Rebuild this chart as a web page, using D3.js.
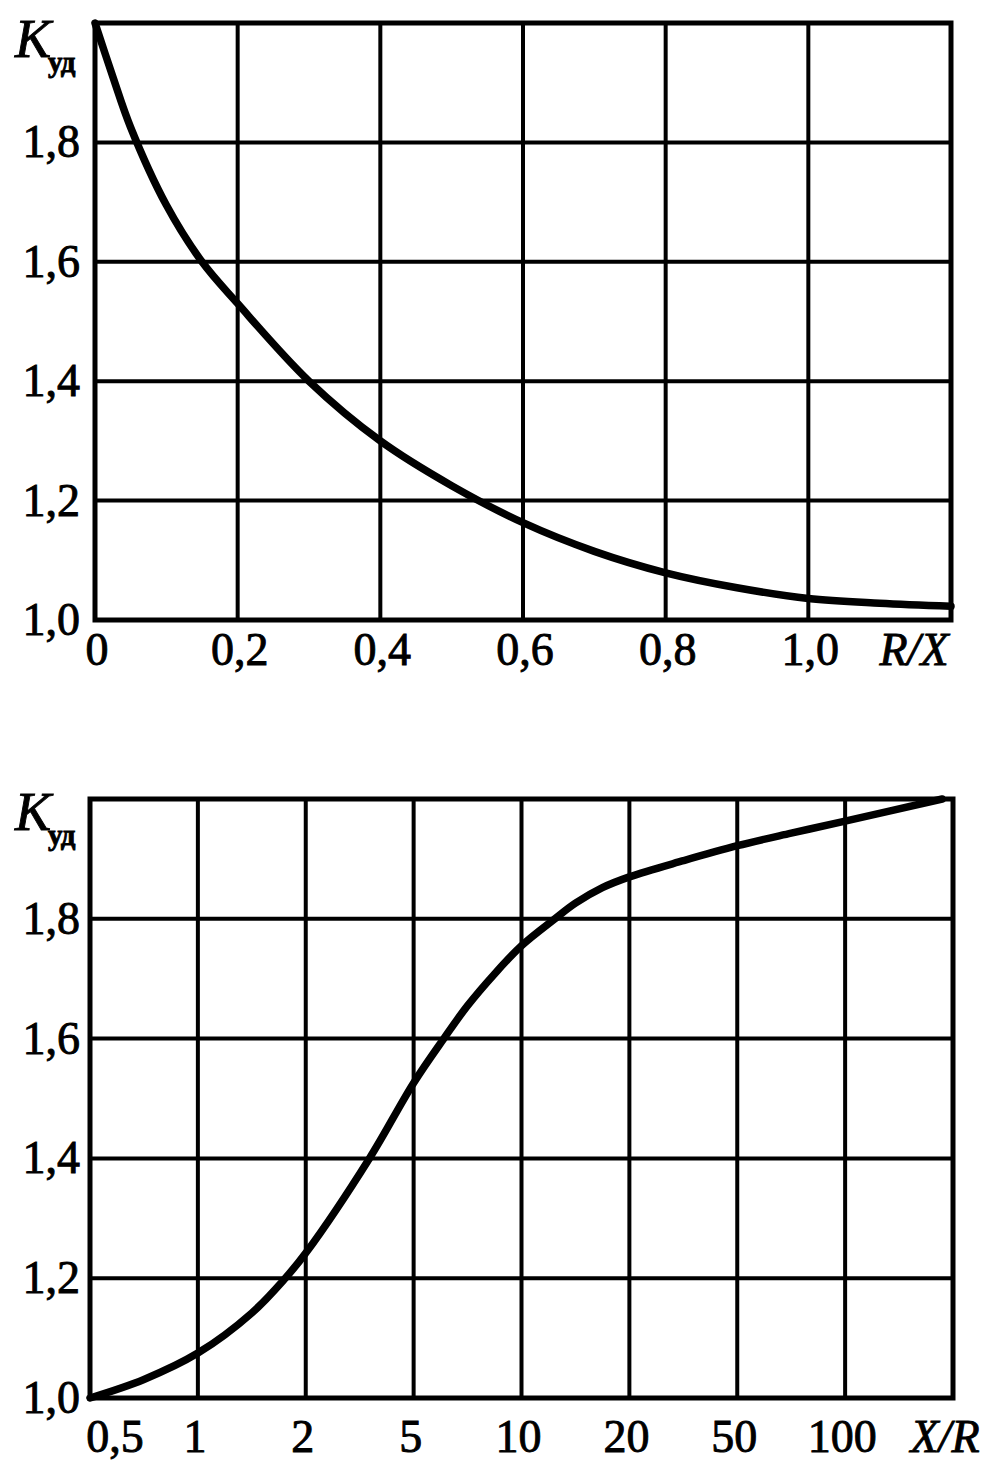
<!DOCTYPE html>
<html>
<head>
<meta charset="utf-8">
<script src="https://cdn.jsdelivr.net/npm/d3@7"></script>
<style>
  html, body { margin: 0; padding: 0; background: #fff; }
  svg { display: block; }
  text { font-family: "Liberation Serif", "DejaVu Serif", serif; fill: #000; stroke: #000; stroke-width: 0.9px; }
</style>
</head>
<body>
<script>
// ---------- DATA ----------
// Top chart: K_ud vs R/X
const topRX = [0, 0.025, 0.05, 0.1, 0.15, 0.2, 0.3, 0.4, 0.5, 0.6, 0.7, 0.8, 0.9, 1.0, 1.1, 1.2];
const topK  = [2.0, 1.91, 1.825, 1.695, 1.60, 1.530, 1.400, 1.300, 1.225, 1.163, 1.115, 1.079, 1.054, 1.036, 1.028, 1.023];
const topXTicks = [0, 0.2, 0.4, 0.6, 0.8, 1.0];
const topXTickLabels = ["0", "0,2", "0,4", "0,6", "0,8", "1,0"];
const topXGrid = [0.2, 0.4, 0.6, 0.8, 1.0];

// Bottom chart: K_ud vs X/R (equally spaced categorical positions)
const bottomCategories = ["0,5", "1", "2", "5", "10", "20", "50", "100"];
const bottomPos = [0, 0.5, 1, 1.5, 1.81, 2, 2.59, 3, 3.28, 3.5, 3.75, 4, 4.31, 4.5, 4.75, 5, 5.5, 6, 6.5, 7, 7.9];
const bottomK   = [1.0, 1.031, 1.075, 1.142, 1.2, 1.242, 1.4, 1.526, 1.6, 1.655, 1.708, 1.755, 1.8, 1.826, 1.852, 1.870, 1.897, 1.922, 1.943, 1.963, 2.0];

// Shared Y ticks
const yTicks = [1.0, 1.2, 1.4, 1.6, 1.8];
const yTickLabels = ["1,0", "1,2", "1,4", "1,6", "1,8"];
const yGrid = [1.2, 1.4, 1.6, 1.8];

// ---------- DRAW ----------
const W = 1000, H = 1470;
const svg = d3.select("body").append("svg").attr("width", W).attr("height", H);

function drawFrame(g, x, y, xGridVals, yGridVals) {
  const [x0, x1] = x.range();
  const [y0, y1] = y.range(); // y0 bottom, y1 top
  g.selectAll(".vg").data(xGridVals).join("line")
    .attr("x1", d => x(d)).attr("x2", d => x(d))
    .attr("y1", y0).attr("y2", y1)
    .attr("stroke", "#000").attr("stroke-width", 4);
  g.selectAll(".hg").data(yGridVals).join("line")
    .attr("x1", x0).attr("x2", x1)
    .attr("y1", d => y(d)).attr("y2", d => y(d))
    .attr("stroke", "#000").attr("stroke-width", 4);
  g.append("rect")
    .attr("x", x0).attr("y", y1)
    .attr("width", x1 - x0).attr("height", y0 - y1)
    .attr("fill", "none").attr("stroke", "#000").attr("stroke-width", 5);
}

function drawYLabels(g, y, xRight) {
  g.selectAll(".yl").data(yTicks).join("text")
    .attr("x", xRight).attr("y", d => y(d) + 15)
    .attr("text-anchor", "end")
    .attr("font-size", 46)
    .text((d, i) => yTickLabels[i]);
}

function drawK(g, xLeft, yTop) {
  const t = g.append("text").attr("x", xLeft).attr("y", yTop);
  t.append("tspan").attr("font-size", 54).attr("font-style", "italic").text("K");
  t.append("tspan").attr("font-size", 29).attr("font-weight", "bold").attr("dy", 15).attr("dx", -3).text("уд");
}

const lineW = 7.5;

// ---- Top chart ----
{
  const x = d3.scaleLinear().domain([0, 1.2]).range([95, 951]);
  const y = d3.scaleLinear().domain([1.0, 2.0]).range([620, 23]);
  const g = svg.append("g");
  drawFrame(g, x, y, topXGrid, yGrid);

  const line = d3.line().x((d, i) => x(topRX[i])).y(d => y(d)).curve(d3.curveCatmullRom.alpha(0.5));
  g.append("path").datum(topK)
    .attr("d", line).attr("fill", "none")
    .attr("stroke", "#000").attr("stroke-width", lineW).attr("stroke-linecap", "round");

  drawYLabels(g, y, 80);
  drawK(g, 15, 57);

  g.selectAll(".xl").data(topXTicks).join("text")
    .attr("x", d => x(d) + 2).attr("y", 665)
    .attr("text-anchor", "middle").attr("font-size", 46)
    .text((d, i) => topXTickLabels[i]);
  g.append("text").attr("x", 914).attr("y", 665)
    .attr("text-anchor", "middle").attr("font-size", 46).attr("font-style", "italic")
    .text("R/X");
}

// ---- Bottom chart ----
{
  const x = d3.scaleLinear().domain([0, bottomCategories.length]).range([90, 953]);
  const y = d3.scaleLinear().domain([1.0, 2.0]).range([1398, 799]);
  const g = svg.append("g");
  const gridIdx = d3.range(1, bottomCategories.length);
  drawFrame(g, x, y, gridIdx, yGrid);

  const line = d3.line().x((d, i) => x(bottomPos[i])).y(d => y(d)).curve(d3.curveCatmullRom.alpha(0.5));
  g.append("path").datum(bottomK)
    .attr("d", line).attr("fill", "none")
    .attr("stroke", "#000").attr("stroke-width", lineW).attr("stroke-linecap", "round");

  drawYLabels(g, y, 80);
  drawK(g, 15, 830);

  g.selectAll(".xl").data(bottomCategories).join("text")
    .attr("x", (d, i) => i === 0 ? x(i) + 25 : x(i) - 3).attr("y", 1452)
    .attr("text-anchor", "middle").attr("font-size", 46)
    .text(d => d);
  g.append("text").attr("x", 945).attr("y", 1452)
    .attr("text-anchor", "middle").attr("font-size", 46).attr("font-style", "italic")
    .text("X/R");
}
</script>
</body>
</html>
